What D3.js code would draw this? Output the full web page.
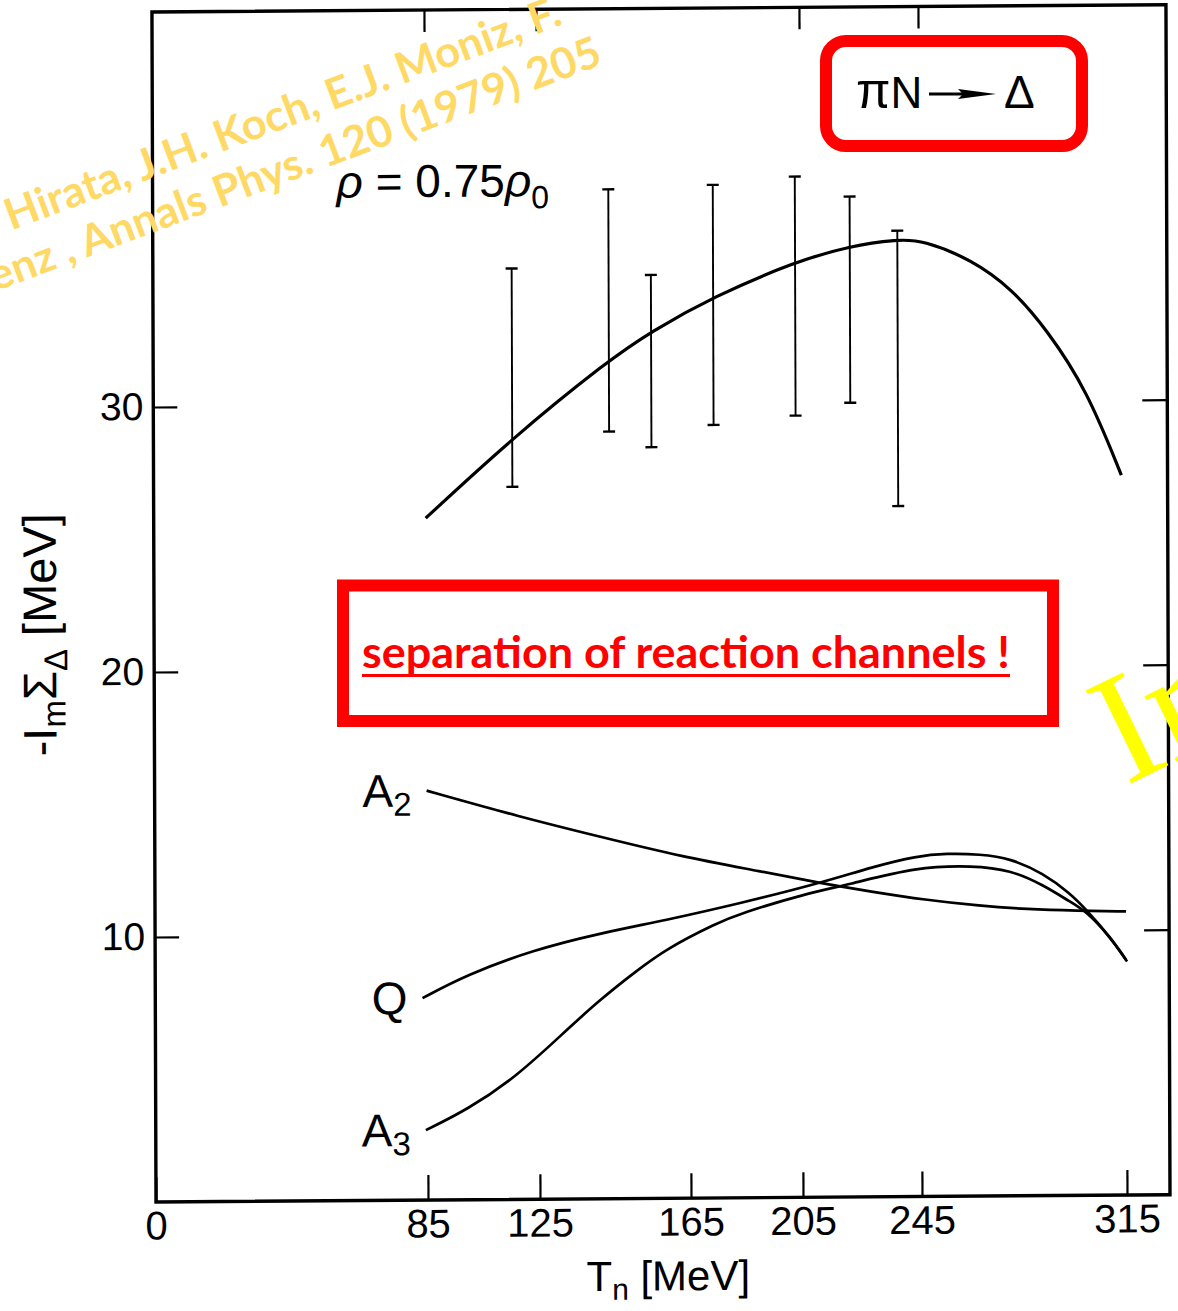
<!DOCTYPE html>
<html>
<head>
<meta charset="utf-8">
<script src="https://cdn.jsdelivr.net/npm/d3@7"></script>
<style>
  html, body { margin: 0; padding: 0; background: #fff; }
  svg { display: block; }
</style>
</head>
<body>
<svg id="chart" width="1178" height="1311"></svg>
<script>
// ---- data ------------------------------------------------------------
const xTickValues = [0, 85, 125, 165, 205, 245, 315];
const topTickValues = [85, 125, 205, 245];
const yTickValues = [10, 20, 30];

// -Im Σ_Δ (MeV) vs pion kinetic energy T (MeV), rho = 0.75 rho0
const totalWidth = [
  [85, 25.73], [115.9, 28.72], [144.0, 31.65], [155.2, 32.71], [174.1, 34.01],
  [203.4, 35.31], [221.9, 35.89], [237.9, 36.12], [246.3, 36.09], [263.2, 35.33],
  [276.8, 34.22], [288.6, 32.68], [302.2, 30.40], [313.9, 27.17]
];
// phenomenological values: [T, lower, upper]
const empirical = [
  [116, 26.89, 35.13], [144, 28.95, 38.09], [155.2, 28.35, 34.85],
  [174, 29.17, 38.23], [203.3, 29.50, 38.52], [221.8, 29.97, 37.75],
  [237.8, 26.06, 36.45]
];
const channelA2 = [
  [85, 15.45], [118.1, 14.44], [141.3, 13.66], [162.8, 12.89],
  [191.0, 12.30], [211.1, 11.85], [228.2, 11.52], [246.4, 11.19], [265.1, 10.95],
  [281.1, 10.81], [298.2, 10.74], [315, 10.70]
];
const channelQ = [
  [83.5, 7.62], [99.1, 8.49], [122.9, 9.41], [141.1, 10.02], [158.8, 10.50],
  [182.9, 11.11], [211.1, 11.85], [229.0, 12.46], [243.6, 12.85], [253.8, 12.94],
  [265.2, 12.90], [275.5, 12.74], [286.8, 12.16], [295.9, 11.40], [301.5, 10.77],
  [309.5, 9.75], [315, 8.87]
];
const channelA3 = [
  [84.4, 2.64], [99.0, 3.39], [116.8, 4.63], [132.2, 6.38], [141.0, 7.50],
  [149.9, 8.50], [158.8, 9.43], [174.5, 10.37], [182.9, 10.73], [206.6, 11.47],
  [220.1, 11.77], [243.6, 12.44], [262.9, 12.47], [275.5, 12.30], [286.8, 11.72],
  [295.9, 11.08], [301.5, 10.71], [309.5, 9.75], [315.3, 8.81]
];
const channels = [
  { name: "A", sub: "2", values: channelA2 },
  { name: "Q", sub: "", values: channelQ },
  { name: "A", sub: "3", values: channelA3 }
];
const citationLines = [
  "M. Hirata, J.H. Koch, E.J. Moniz, F.",
  "Lenz , Annals Phys. 120 (1979) 205"
];
const citationVisible = "Hirata, J.H. Koch, E.J. Moniz, F.";
const noteText = "separation of reaction channels !";

// ---- layout ----------------------------------------------------------
const svg = d3.select("#chart");
const frame = { left: 156, right: 1170, top: 12, bottom: 1202 };
const SANS = "'Liberation Sans', Arial, Helvetica, sans-serif";
const CAL = "Lato, 'Open Sans', sans-serif";

// the energy axis is ruled unevenly between its labelled ticks
const x = d3.scaleLinear()
  .domain([0, 85, 125, 165, 205, 245, 315])
  .range([156, 428, 540, 691, 803, 922, 1127]);
const y = d3.scaleLinear().domain([0, 45]).range([1202, 1202 - 45 * 26.5]);

// slight skew of the whole ruled figure, pivoting at the origin corner
const skA = 0.0034, skB = -0.0072;
const fig = svg.append("g")
  .attr("transform", `matrix(1, ${skB}, ${skA}, 1, ${-skA * frame.bottom}, ${-skB * frame.left})`);

// frame
fig.append("rect")
  .attr("x", frame.left).attr("y", frame.top)
  .attr("width", frame.right - frame.left).attr("height", frame.bottom - frame.top)
  .attr("fill", "none").attr("stroke", "#000").attr("stroke-width", 3.4);

function styleAxis(g, size) {
  g.select(".domain").remove();
  g.selectAll(".tick line").attr("stroke", "#000").attr("stroke-width", 2.2);
  g.selectAll(".tick text").attr("fill", "#000")
    .attr("font-family", SANS).attr("font-size", size);
}

fig.append("g")
  .attr("transform", `translate(0,${frame.bottom})`)
  .call(d3.axisBottom(x).tickValues(xTickValues).tickSizeInner(-25).tickSizeOuter(0).tickPadding(9))
  .call(g => styleAxis(g, 40));

fig.append("g")
  .attr("transform", `translate(0,${frame.top})`)
  .call(d3.axisTop(x).tickValues(topTickValues).tickSizeInner(-22).tickSizeOuter(0).tickFormat(""))
  .call(g => styleAxis(g, 40));

fig.append("g")
  .attr("transform", `translate(${frame.left},0)`)
  .call(d3.axisLeft(y).tickValues(yTickValues).tickSizeInner(-24).tickSizeOuter(0).tickPadding(10))
  .call(g => styleAxis(g, 39));

fig.append("g")
  .attr("transform", `translate(${frame.right},0)`)
  .call(d3.axisRight(y).tickValues(yTickValues).tickSizeInner(-25).tickSizeOuter(0).tickFormat(""))
  .call(g => styleAxis(g, 39));

// axis titles
const xTitle = fig.append("text")
  .attr("x", 668).attr("y", 1294)
  .attr("text-anchor", "middle")
  .attr("font-family", SANS).attr("font-size", 42).attr("fill", "#000");
xTitle.append("tspan").text("T");
xTitle.append("tspan").attr("font-size", 30).attr("dy", 9).text("n");
xTitle.append("tspan").attr("dy", -9).text(" [MeV]");

const yTitle = fig.append("text")
  .attr("transform", "translate(58,634) rotate(-90)")
  .attr("text-anchor", "middle")
  .attr("font-family", SANS).attr("font-size", 47).attr("fill", "#000");
yTitle.append("tspan").text("-I");
yTitle.append("tspan").attr("font-size", 33).attr("dy", 9).text("m");
yTitle.append("tspan").attr("dy", -9).text("Σ");
yTitle.append("tspan").attr("font-size", 33).attr("dy", 11).text("Δ");
yTitle.append("tspan").attr("dy", -11).text(" [MeV]");

const line = d3.line()
  .x(d => x(d[0])).y(d => y(d[1]))
  .curve(d3.curveBasis);

fig.append("path")
  .datum(totalWidth)
  .attr("d", line)
  .attr("fill", "none").attr("stroke", "#000").attr("stroke-width", 3.2);

const bars = fig.append("g").attr("stroke", "#000");
bars.selectAll("line.bar").data(empirical).join("line")
  .attr("class", "bar")
  .attr("x1", d => x(d[0])).attr("x2", d => x(d[0]))
  .attr("y1", d => y(d[1])).attr("y2", d => y(d[2]))
  .attr("stroke-width", 1.9);
bars.selectAll("line.capLo").data(empirical).join("line")
  .attr("class", "capLo")
  .attr("x1", d => x(d[0]) - 6).attr("x2", d => x(d[0]) + 6)
  .attr("y1", d => y(d[1])).attr("y2", d => y(d[1]))
  .attr("stroke-width", 2.4);
bars.selectAll("line.capHi").data(empirical).join("line")
  .attr("class", "capHi")
  .attr("x1", d => x(d[0]) - 6).attr("x2", d => x(d[0]) + 6)
  .attr("y1", d => y(d[2])).attr("y2", d => y(d[2]))
  .attr("stroke-width", 2.4);

fig.selectAll("path.channel").data(channels).join("path")
  .attr("class", "channel")
  .attr("d", d => line(d.values))
  .attr("fill", "none").attr("stroke", "#000").attr("stroke-width", 2.7);

// channel labels, set just left of each curve's first point
const labels = fig.selectAll("text.chan").data(channels).join("text")
  .attr("class", "chan")
  .attr("x", d => x(d.values[0][0]) - 15)
  .attr("y", d => y(d.values[0][1]) + 16)
  .attr("text-anchor", "end")
  .attr("font-family", SANS).attr("font-size", 46).attr("fill", "#000");
labels.append("tspan").text(d => d.name);
labels.append("tspan").attr("font-size", 33).attr("dy", 9).text(d => d.sub);

// density annotation
const rho = fig.append("text")
  .attr("x", 340).attr("y", 199)
  .attr("font-family", SANS).attr("font-size", 46).attr("fill", "#000");
rho.append("tspan").attr("font-style", "italic").text("ρ");
rho.append("tspan").text(" = 0.75");
rho.append("tspan").attr("font-style", "italic").text("ρ");
rho.append("tspan").attr("font-size", 32).attr("dy", 12).text("0");

// reaction label  πN → Δ
const react = svg.append("g");
react.append("text")
  .attr("x", 856).attr("y", 108)
  .attr("font-family", SANS).attr("font-size", 44).attr("fill", "#000")
  .call(t => t.append("tspan").attr("font-size", 50).text("π"))
  .call(t => t.append("tspan").text("N"));
react.append("line")
  .attr("x1", 929).attr("x2", 970).attr("y1", 94).attr("y2", 94)
  .attr("stroke", "#000").attr("stroke-width", 3);
react.append("path")
  .attr("d", "M958,89 L996,94 L958,99 L963,94 Z")
  .attr("fill", "#000");
react.append("text")
  .attr("x", 1004).attr("y", 108)
  .attr("font-family", SANS).attr("font-size", 46).attr("fill", "#000")
  .text("Δ");

// ---- overlays --------------------------------------------------------
function measure(text, family, weight, size) {
  const t = svg.append("text")
    .attr("font-family", family).attr("font-weight", weight)
    .attr("font-size", size).text(text);
  const len = t.node().getComputedTextLength();
  t.remove();
  return len;
}

svg.append("rect")
  .attr("x", 826).attr("y", 41).attr("width", 256).attr("height", 105)
  .attr("rx", 20).attr("ry", 20)
  .attr("fill", "none").attr("stroke", "#ff0000").attr("stroke-width", 12);

svg.append("rect")
  .attr("x", 343).attr("y", 585.5).attr("width", 710).attr("height", 135.5)
  .attr("fill", "#fff").attr("stroke", "#ff0000").attr("stroke-width", 12);

const noteWidth = 648;
svg.append("text")
  .attr("x", 362).attr("y", 668)
  .attr("font-family", CAL).attr("font-weight", 700)
  .attr("font-size", 43).attr("fill", "#ff0000")
  .attr("textLength", noteWidth).attr("lengthAdjust", "spacingAndGlyphs")
  .text(noteText);
svg.append("line")
  .attr("x1", 362).attr("x2", 362 + noteWidth)
  .attr("y1", 675.5).attr("y2", 675.5)
  .attr("stroke", "#ff0000").attr("stroke-width", 3);

// citation, tilted across the upper left corner
const citeSize = 43;
const citeSquash = 590 / measure(citationVisible, CAL, 700, citeSize);
const citeEnds = [[564, 24], [604, 64]];
citationLines.forEach((s, i) => {
  svg.append("text")
    .attr("transform", `translate(${citeEnds[i][0]},${citeEnds[i][1]}) rotate(-20.5)`)
    .attr("text-anchor", "end")
    .attr("font-family", CAL).attr("font-weight", 700)
    .attr("font-size", citeSize).attr("fill", "#ffd966")
    .attr("textLength", measure(s, CAL, 700, citeSize) * citeSquash)
    .attr("lengthAdjust", "spacingAndGlyphs")
    .text(s);
});

// large yellow heading running off the right edge
svg.append("text")
  .attr("transform", "translate(1126,786) rotate(-26)")
  .attr("font-family", "'Liberation Serif', 'Times New Roman', serif")
  .attr("font-size", 158).attr("fill", "#ffff00")
  .text("Im");
</script>
</body>
</html>
